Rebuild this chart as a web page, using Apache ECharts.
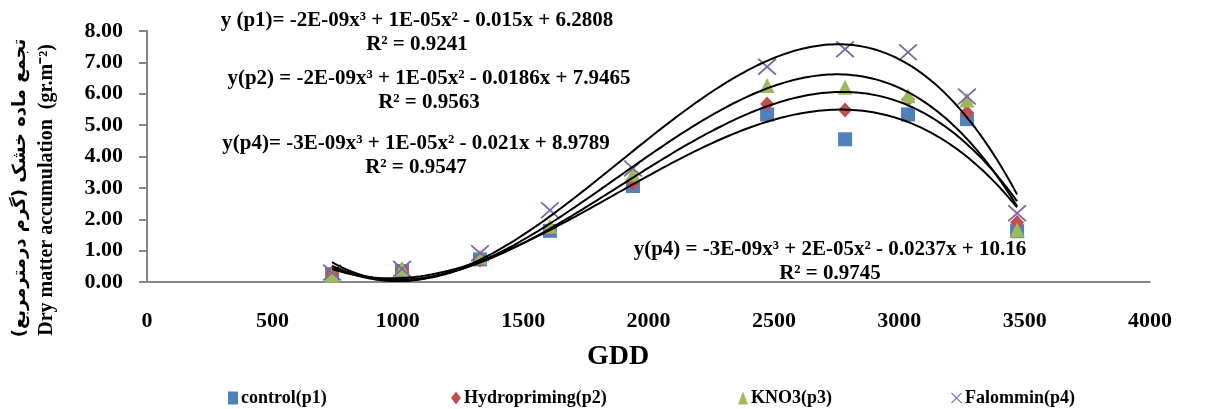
<!DOCTYPE html>
<html>
<head>
<meta charset="utf-8">
<script src="https://cdn.jsdelivr.net/npm/echarts@6/dist/echarts.min.js"></script>
<style>
  html, body { margin: 0; padding: 0; background: #ffffff; }
  #chart { width: 1211px; height: 409px; }
</style>
</head>
<body>
<div id="chart"></div>
<script>
// Growing degree days at each sampling date
const gdd = [738, 1017, 1328, 1607, 1938, 2473, 2784, 3035, 3270, 3470];

// Dry matter accumulation (g/m2) per seed-priming treatment
const controlP1   = [0.25, 0.35, 0.72, 1.63, 3.06, 5.34, 4.55, 5.34, 5.19, 1.62];
const hydroP2     = [0.28, 0.40, 0.70, 1.70, 3.15, 5.67, 5.48, 5.82, 5.40, 1.90];
const kno3P3      = [0.22, 0.42, 0.80, 1.78, 3.44, 6.26, 6.21, 5.94, 5.80, 1.66];
const falomminP4  = [0.30, 0.42, 0.92, 2.29, 3.62, 6.86, 7.42, 7.32, 5.91, 2.19];

const seriesNames = ['control(p1)', 'Hydropriming(p2)', 'KNO3(p3)', 'Falommin(p4)'];
const seriesColors = ['#4F81BD', '#C0504D', '#9BBB59', '#8064A2'];

// Axis ticks
const yTicks = [0, 1, 2, 3, 4, 5, 6, 7, 8];
const xMin = 0, xMax = 4000, xStep = 500;

// Trendline annotations
const equations = [
  { eq: 'y (p1)= -2E-09x³ + 1E-05x² - 0.015x + 6.2808', r2: 'R² = 0.9241', x: 417, y: 21 },
  { eq: 'y(p2) = -2E-09x³ + 1E-05x² - 0.0186x + 7.9465', r2: 'R² = 0.9563', x: 429, y: 79 },
  { eq: 'y(p4)= -3E-09x³ + 1E-05x² - 0.021x + 8.9789', r2: 'R² = 0.9547', x: 416, y: 144 },
  { eq: 'y(p4) = -3E-09x³ + 2E-05x² - 0.0237x + 10.16', r2: 'R² = 0.9745', x: 830, y: 250 }
];

// Least-squares cubic regression (x scaled to thousands for conditioning)
function cubicFit(xs, ys) {
  const n = 4;
  const A = [], b = [];
  for (let i = 0; i < n; i++) {
    A.push(new Array(n).fill(0));
    b.push(0);
  }
  xs.forEach((x, k) => {
    const t = x / 1000;
    for (let i = 0; i < n; i++) {
      for (let j = 0; j < n; j++) A[i][j] += Math.pow(t, i + j);
      b[i] += ys[k] * Math.pow(t, i);
    }
  });
  for (let c = 0; c < n; c++) {
    let p = c;
    for (let r = c + 1; r < n; r++) if (Math.abs(A[r][c]) > Math.abs(A[p][c])) p = r;
    [A[c], A[p]] = [A[p], A[c]];
    [b[c], b[p]] = [b[p], b[c]];
    for (let r = c + 1; r < n; r++) {
      const f = A[r][c] / A[c][c];
      for (let j = c; j < n; j++) A[r][j] -= f * A[c][j];
      b[r] -= f * b[c];
    }
  }
  const coef = new Array(n).fill(0);
  for (let r = n - 1; r >= 0; r--) {
    let s = b[r];
    for (let j = r + 1; j < n; j++) s -= A[r][j] * coef[j];
    coef[r] = s / A[r][r];
  }
  return x => {
    const t = x / 1000;
    return coef[0] + coef[1] * t + coef[2] * t * t + coef[3] * t * t * t;
  };
}

function trendPoints(xs, ys) {
  const f = cubicFit(xs, ys);
  const x0 = xs[0], x1 = xs[xs.length - 1];
  const pts = [];
  for (let k = 0; k <= 200; k++) {
    const x = x0 + (x1 - x0) * k / 200;
    pts.push([x, f(x)]);
  }
  return pts;
}

const values = [controlP1, hydroP2, kno3P3, falomminP4];
const crossPath = 'path://M0,0.7L0.7,0L5,4.3L9.3,0L10,0.7L5.7,5L10,9.3L9.3,10L5,5.7L0.7,10L0,9.3L4.3,5Z';
const symbols = ['rect', 'diamond', 'triangle', crossPath];
const symbolSizes = [14, [14, 15], [15, 15], [19, 17]];

const serif = '"Liberation Serif", "Times New Roman", serif';

const scatterSeries = values.map((vals, i) => ({
  name: seriesNames[i],
  type: 'scatter',
  data: gdd.map((x, k) => [x, vals[k]]),
  symbol: symbols[i],
  symbolSize: symbolSizes[i],
  itemStyle: { color: seriesColors[i], opacity: 1 },
  z: 2 + i
}));

const trendSeries = values.map((vals, i) => ({
  name: 'trend ' + seriesNames[i],
  type: 'line',
  data: trendPoints(gdd, vals),
  showSymbol: false,
  symbol: 'none',
  lineStyle: { color: '#000000', width: 2 },
  silent: true,
  z: 10
}));

const legendLefts = [223, 446, 733, 946];
const legends = seriesNames.map((name, i) => ({
  data: [name],
  left: legendLefts[i],
  top: 384,
  itemWidth: i === 3 ? 11 : 10,
  itemHeight: 13,
  itemGap: 0,
  textStyle: { fontFamily: serif, fontWeight: 'bold', fontSize: 18, color: '#000000', padding: [0, 0, 0, -2] }
}));

const textEls = [];
equations.forEach(e => {
  textEls.push({
    type: 'text', x: e.x, y: e.y, z: 20,
    style: { text: e.eq, font: 'bold 21px ' + serif, fill: '#000', textAlign: 'center', textVerticalAlign: 'middle' }
  });
  textEls.push({
    type: 'text', x: e.x, y: e.y + 24, z: 20,
    style: { text: e.r2, font: 'bold 21px ' + serif, fill: '#000', textAlign: 'center', textVerticalAlign: 'middle' }
  });
});

// Axis titles
textEls.push({
  type: 'text', x: 618, y: 357, z: 20,
  style: { text: 'GDD', font: 'bold 28px ' + serif, fill: '#000', textAlign: 'center', textVerticalAlign: 'middle' }
});
textEls.push({
  type: 'text', x: 47, y: 190, rotation: Math.PI / 2, z: 20,
  style: { text: 'Dry matter accumulation  (gr.m⁻²)', font: 'bold 20px ' + serif, fill: '#000', textAlign: 'center', textVerticalAlign: 'middle' }
});
textEls.push({
  type: 'text', x: 20, y: 188, rotation: Math.PI / 2, z: 20,
  style: { text: 'تجمع ماده خشک (گرم درمترمربع)', font: 'bold 18px "DejaVu Sans", sans-serif', fill: '#000', textAlign: 'center', textVerticalAlign: 'middle' }
});

const chart = echarts.init(document.getElementById('chart'), null, { renderer: 'canvas' });
chart.setOption({
  animation: false,
  backgroundColor: '#ffffff',
  grid: { left: 147, right: 61, top: 31, bottom: 127, containLabel: false },
  legend: legends,
  xAxis: {
    type: 'value',
    min: xMin, max: xMax, interval: xStep,
    axisLine: { show: true, onZero: false, lineStyle: { color: '#868686', width: 2 } },
    axisTick: { show: false },
    splitLine: { show: false },
    axisLabel: { margin: 28, fontFamily: serif, fontWeight: 'bold', fontSize: 22, color: '#000', formatter: v => String(v) }
  },
  yAxis: {
    type: 'value',
    min: yTicks[0], max: yTicks[yTicks.length - 1], interval: 1,
    axisLine: { show: true, lineStyle: { color: '#868686', width: 2 } },
    axisTick: { show: true, inside: false, length: 8, lineStyle: { color: '#868686', width: 2 } },
    splitLine: { show: false },
    axisLabel: { margin: 24, fontFamily: serif, fontWeight: 'bold', fontSize: 22, color: '#000', formatter: v => v.toFixed(2) }
  },
  series: scatterSeries.concat(trendSeries),
  graphic: textEls
});
</script>
</body>
</html>
